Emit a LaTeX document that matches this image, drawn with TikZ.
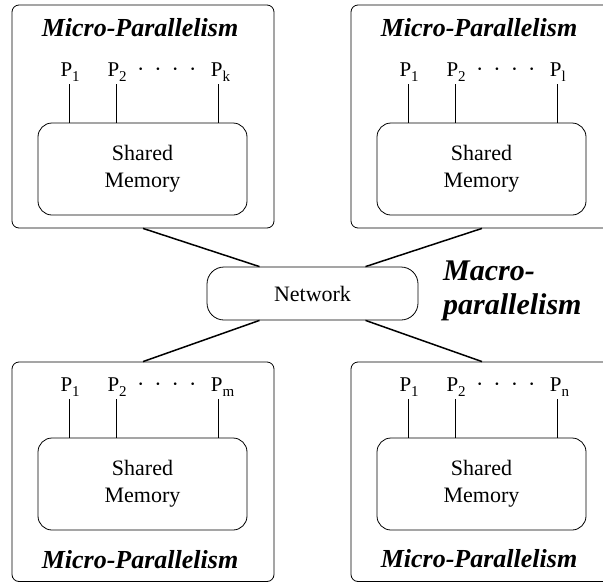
\documentclass[tikz,border=0pt]{standalone}
\usepackage{fontspec}
\setmainfont{Liberation Serif}
\tikzset{
 outerbox/.style={draw, line width=0.8pt, rounded corners=7pt, minimum width=262pt, inner sep=0pt},
 membox/.style={draw, line width=0.8pt, rounded corners=14pt, minimum width=209pt, minimum height=92pt, align=center, font=\fontsize{22}{27}\selectfont, inner sep=0pt},
 netbox/.style={draw, line width=0.8pt, rounded corners=17pt, minimum width=211pt, minimum height=53pt, font=\fontsize{22}{27}\selectfont, inner sep=0pt},
 titletext/.style={anchor=base, font=\fontsize{26}{30}\selectfont\bfseries\itshape, inner sep=0pt},
 macrotext/.style={anchor=base west, align=left, font=\fontsize{30}{34}\selectfont\bfseries\itshape, inner sep=0pt},
 plabel/.style={anchor=base west, font=\fontsize{21}{24}\selectfont, inner sep=0pt},
 dotstext/.style={anchor=base, font=\fontsize{22}{24}\selectfont, inner sep=0pt},
 pline/.style={line width=0.8pt},
 netline/.style={line width=1.5pt},
}
\newcommand\psub[1]{\raisebox{-5.5pt}{\fontsize{15}{15}\selectfont #1}}
% #1 name, #2 dx, #3 outer centre y, #4 outer height, #5 shift of P/memory, #6 last subscript, #7 title baseline
\newcommand\mpcluster[7]{%
 \node[outerbox, minimum height=#4pt] (#1) at ({#2+143},#3) {};
 \node[membox] (#1mem) at ({#2+142.5},{#5+169}) {Shared\\Memory};
 \node[plabel] (#1p1) at ({#2+60.3},{#5+76}) {P\psub{1}};
 \node[plabel] (#1p2) at ({#2+107.3},{#5+76}) {P\psub{2}};
 \node[plabel] (#1p3) at ({#2+210.7},{#5+76}) {P\psub{#6}};
 \node[dotstext] (#1dots) at ({#2+166.75},{#5+76}) {·\hspace{10pt}·\hspace{10pt}·\hspace{10pt}·};
 \coordinate (#1t1) at ({#2+69.3},{#5+84});
 \coordinate (#1t2) at ({#2+116.3},{#5+84});
 \coordinate (#1t3) at ({#2+218.7},{#5+84});
 \draw[pline] (#1t1) -- (#1t1 |- #1mem.north);
 \draw[pline] (#1t2) -- (#1t2 |- #1mem.north);
 \draw[pline] (#1t3) -- (#1t3 |- #1mem.north);
 \node[titletext] (#1title) at ({#2+140},#7) {Micro-Parallelism};
}
\begin{document}
\begin{tikzpicture}[x=1pt, y=-1pt]
\useasboundingbox (0,0) rectangle (603,584);
\clip (0,0) rectangle (603,584);
\mpcluster{tl}{0}{116.5}{223}{0}{k}{36}
\mpcluster{tr}{339}{116.5}{223}{0}{l}{36}
\mpcluster{bl}{0}{471.75}{219.5}{315}{m}{568}
\mpcluster{br}{339}{471.75}{219.5}{315}{n}{567}
\node[netbox] (net) at (312.5,293.5) {Network};
\node[macrotext] (macro) at (443,314) {Macro-\\parallelism};
\draw[netline] (tl.south) -- ([xshift=-53pt]net.north);
\draw[netline] (tr.south) -- ([xshift=53pt]net.north);
\draw[netline] (bl.north) -- ([xshift=-53pt]net.south);
\draw[netline] (br.north) -- ([xshift=53pt]net.south);
\end{tikzpicture}
\end{document}
